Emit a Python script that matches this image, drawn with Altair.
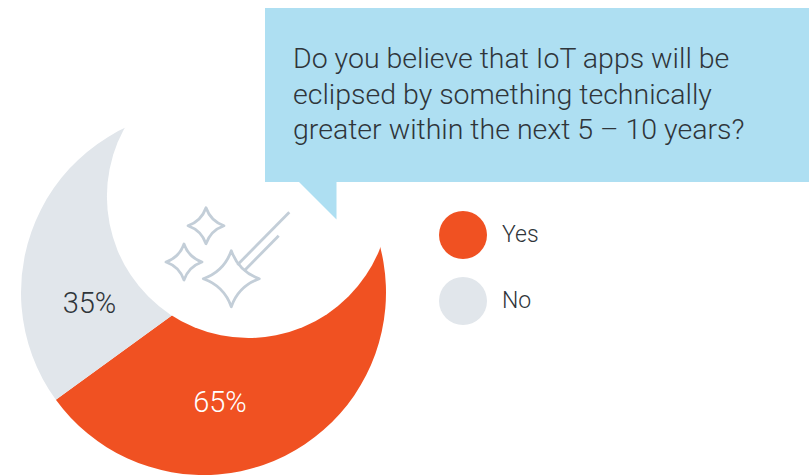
import altair as alt
import pandas as pd

# Survey shares
answers = ["Yes", "No"]
shares = [65, 35]
slice_colors = ["#f05122", "#e1e6eb"]
question_lines = [
    "Do you believe that IoT apps will be",
    "eclipsed by something technically",
    "greater within the next 5 \u2013 10 years?",
]

table = pd.DataFrame({"answer": answers, "share": shares, "rank": [0, 1]})

FONT = "Roboto"
STAR = "M0,-1 Q0.26,-0.26 1,0 Q0.26,0.26 0,1 Q-0.26,0.26 -1,0 Q-0.26,-0.26 0,-1 Z"
TAIL = "M-1,-1 L1,-1 L1,1 Z"
ICON = "#c3ced8"
BUBBLE = "#aedff2"
INK = "#2f353a"

base = alt.Chart(table)

# Pie, with the legend placed beside it
pie = base.mark_arc(outerRadius=182.5, x=203.5, y=292.5).encode(
    theta=alt.Theta("share:Q", stack=True),
    order=alt.Order("rank:Q"),
    color=alt.Color(
        "answer:N",
        scale=alt.Scale(domain=answers, range=slice_colors),
        legend=alt.Legend(
            title=None,
            orient="none",
            legendX=439,
            legendY=211,
            symbolType="circle",
            symbolSize=2304,
            symbolStrokeWidth=0,
            labelFont=FONT,
            labelFontSize=23,
            labelFontWeight=300,
            labelColor=INK,
            labelOffset=15,
            rowPadding=18,
        ),
    ),
)

one = alt.Chart(pd.DataFrame({"k": [0]}))

# White disc that cuts the crescent out of the pie
cutout = one.mark_point(filled=True, color="white", opacity=1, shape="circle", size=80089).encode(
    x=alt.value(248.4), y=alt.value(196.5)
)


def star(x, y, half):
    return one.mark_point(
        shape=STAR, stroke=ICON, strokeWidth=2.8, strokeJoin="round", filled=False, opacity=1, size=(2 * half) ** 2
    ).encode(x=alt.value(x), y=alt.value(y))


def streak(x1, y1, x2, y2):
    return one.mark_rule(color=ICON, strokeWidth=2.8).encode(
        x=alt.value(x1), y=alt.value(y1), x2=alt.value(x2), y2=alt.value(y2)
    )


streaks = streak(289.3, 212.3, 237.3, 265) + streak(278.7, 235.7, 244, 271)
stars = star(206, 225.7, 18) + star(184, 262, 18) + star(231.3, 278.7, 28)

# Speech bubble with its question
bubble = one.mark_rect(color=BUBBLE).encode(
    x=alt.value(265), x2=alt.value(809), y=alt.value(8), y2=alt.value(182)
)
tail = one.mark_point(shape=TAIL, filled=True, color=BUBBLE, opacity=1, size=1444).encode(
    x=alt.value(317.5), y=alt.value(200.5)
)
question = one.mark_text(
    text=question_lines,
    font=FONT,
    fontSize=28.5,
    fontWeight=300,
    lineHeight=35.5,
    align="left",
    baseline="alphabetic",
    color=INK,
).encode(x=alt.value(293), y=alt.value(68))


def share_label(answer, x, y, color):
    return (
        base.transform_filter(alt.datum.answer == answer)
        .transform_calculate(label="datum.share + '%'")
        .mark_text(font=FONT, fontSize=29, fontWeight=300, color=color, align="center", baseline="middle")
        .encode(text="label:N", x=alt.value(x), y=alt.value(y))
    )


labels = share_label("Yes", 220, 403, "white") + share_label("No", 89.5, 304, INK)

chart = (
    alt.layer(pie, cutout, streaks, stars, bubble, tail, question, labels)
    .properties(width=809, height=475, padding=0, autosize=alt.AutoSizeParams(type="none"), background="white")
    .configure_view(stroke=None)
)

chart.save("out.html", embed_options={"renderer": "svg", "actions": False})
